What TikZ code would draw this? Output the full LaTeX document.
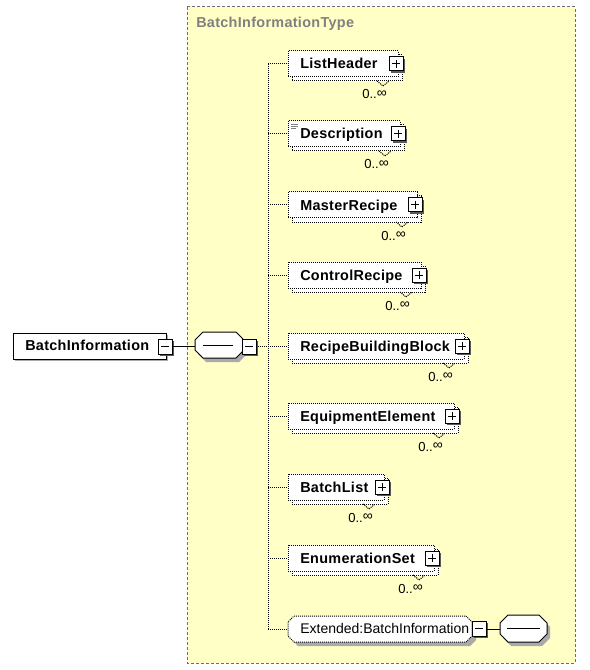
\documentclass[tikz,border=0pt]{standalone}
\usepackage{fontspec}
\setmainfont{Liberation Sans}
\definecolor{typebg}{RGB}{255,255,198}
\definecolor{typeborder}{RGB}{110,110,110}
\definecolor{titlegray}{RGB}{128,128,128}
\definecolor{shadowgray}{RGB}{170,170,170}
\definecolor{sqshade}{RGB}{90,90,90}
\tikzset{
  dotln/.style={line width=0.75pt, dash pattern=on 0.75pt off 0.75pt},
  elbox/.style={draw=black, fill=white, dotln},
  sqbox/.style={draw=black, fill=white, line width=0.75pt},
  sqshadow/.style={fill=sqshade},
  octshadow/.style={fill=shadowgray},
  solidln/.style={draw=black, line width=0.75pt},
  lbl/.style={font=\fontsize{10.8}{13}\selectfont\bfseries\addfontfeature{LetterSpace=2.2}, anchor=base west, inner sep=0pt},
  reglbl/.style={font=\fontsize{10.5}{13}\selectfont, anchor=base west, inner sep=0pt},
  occ/.style={font=\fontsize{9.8}{11}\selectfont, anchor=base west, inner sep=0pt},
}
% #1 id, #2 label, #3 top, #4 right edge of front box
\newcommand\xelem[4]{%
  \path[elbox] (292,#3+4) rectangle (#4+4,#3+30);
  \path[elbox] (288,#3) rectangle (#4,#3+26);
  \node[lbl] (#1) at (300,#3+18) {#2};
  \coordinate (#1w) at (288,#3+13);
  \fill[sqshadow] (#4-7,#3+8) rectangle (#4+7,#3+22);
  \path[sqbox] (#4-9,#3+6) rectangle (#4+5,#3+20);
  \draw[line width=0.75pt] (#4-6,#3+13) -- (#4+2,#3+13) (#4-2,#3+9) -- (#4-2,#3+17);
  \draw[dotln] (#4-21,#3+30) -- (#4-15,#3+35) -- (#4-9,#3+30);
  \node[occ] (#1occ) at (#4-36,#3+48) {0..\raisebox{1.4pt}{\fontsize{10.5}{10}\selectfont ∞}};
}
\begin{document}
\begin{tikzpicture}[x=0.75pt,y=-0.75pt]
\useasboundingbox (0,0) rectangle (589,670);
\fill[white] (0,0) rectangle (589,670);
% complex type frame
\path[fill=typebg, draw=typeborder, line width=0.75pt, dash pattern=on 2.25pt off 1.5pt] (187,7) rectangle (575,663);
\node[lbl, text=titlegray] (title) at (196,28) {BatchInformationType};

% root element
\fill[shadowgray] (15,335) rectangle (168,361);
\path[solidln, fill=white] (13,333) rectangle (166,359);
\node[lbl] (root) at (25,350) {BatchInformation};
\fill[sqshadow] (160,341) rectangle (174,356);
\path[sqbox] (158,339) rectangle (172,354);
\draw[line width=0.75pt] (161,346.5) -- (169,346.5);
\coordinate (rootminus) at (172,346);

% sequence compositor
\fill[octshadow] (206,336) -- (239,336) -- (247,344) -- (247,354) -- (239,362) -- (206,362) -- (198,354) -- (198,344) -- cycle;
\path[solidln, fill=white] (203,332) -- (236,332) -- (244,340) -- (244,350) -- (236,358) -- (203,358) -- (195,350) -- (195,340) -- cycle;
\coordinate (seqw) at (195,346);
\draw[line width=0.75pt] (203,345.5) -- (233,345.5);
\fill[sqshadow] (244,341) rectangle (258,356);
\path[sqbox] (242,339) rectangle (256,354);
\draw[line width=0.75pt] (245,346.5) -- (253,346.5);
\coordinate (seqe) at (256,346);
\draw[solidln] (rootminus) -- (seqw);

% spine
\coordinate (spinetop) at (268,64);
\coordinate (spinebot) at (268,629);
\coordinate (spinemid) at (268,346);
\draw[dotln] (spinetop) -- (spinebot);
\draw[dotln] (seqe) -- (spinemid);

% children
\xelem{e1}{ListHeader}{51}{398}
\xelem{e2}{Description}{121}{400}
\xelem{e3}{MasterRecipe}{192}{417}
\xelem{e4}{ControlRecipe}{262}{421}
\xelem{e5}{RecipeBuildingBlock}{333}{464}
\xelem{e6}{EquipmentElement}{403}{454}
\xelem{e7}{BatchList}{474}{384}
\xelem{e8}{EnumerationSet}{545}{434}
% documentation mark on Description
\draw[titlegray, line width=0.6pt] (291,124.5) -- (298,124.5) (291,126.5) -- (298,126.5) (291,128.5) -- (296,128.5);

\foreach \i/\y in {1/64,2/134,3/205,4/275,5/346,6/416,7/487,8/558}{
  \coordinate (sp\i) at (268,\y);
  \draw[dotln] (sp\i) -- (e\i w);
}

% extension group reference
\fill[shadowgray] (298,620) -- (470,620) -- (476,626) -- (476,640) -- (470,646) -- (298,646) -- (292,640) -- (292,626) -- cycle;
\path[elbox] (294,616) -- (466,616) -- (472,622) -- (472,636) -- (466,642) -- (294,642) -- (288,636) -- (288,622) -- cycle;
\node[reglbl] (ext) at (300,633.5) {Extended:BatchInformation};
\coordinate (extw) at (288,629);
\coordinate (sp9) at (268,629);
\draw[dotln] (sp9) -- (extw);
\fill[sqshadow] (474,623) rectangle (488,638);
\path[sqbox] (472,621) rectangle (486,636);
\draw[line width=0.75pt] (475,628.5) -- (483,628.5);
\coordinate (extminus) at (486,629);
\fill[octshadow] (511,619) -- (542,619) -- (550,627) -- (550,638) -- (542,646) -- (511,646) -- (503,638) -- (503,627) -- cycle;
\path[solidln, fill=white] (508,615) -- (539,615) -- (547,623) -- (547,634) -- (539,642) -- (508,642) -- (500,634) -- (500,623) -- cycle;
\coordinate (seq2w) at (500,629);
\draw[line width=0.75pt] (507,628.5) -- (540,628.5);
\draw[solidln] (extminus) -- (seq2w);
\end{tikzpicture}
\end{document}
